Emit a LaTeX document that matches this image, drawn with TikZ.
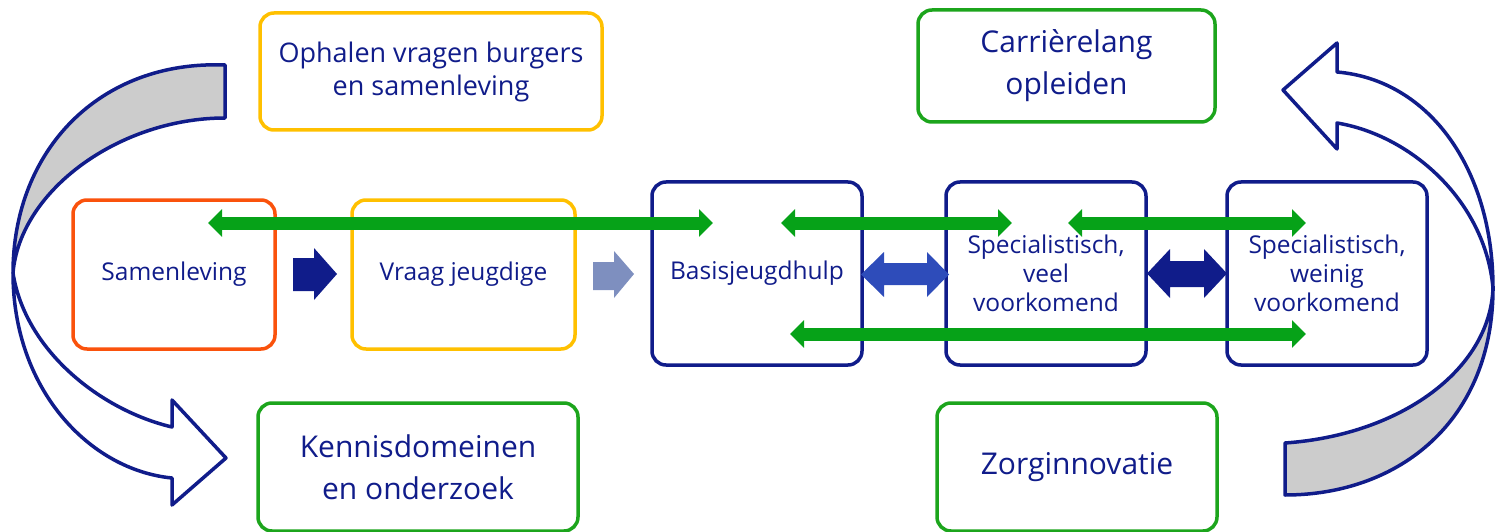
\documentclass[tikz,border=0pt]{standalone}
\usepackage{fontspec}
\setmainfont{Open Sans}
\usetikzlibrary{arrows.meta}
\definecolor{navy}{RGB}{16,28,138}
\definecolor{redor}{RGB}{250,82,12}
\definecolor{yel}{RGB}{255,192,0}
\definecolor{gbox}{RGB}{28,165,28}
\definecolor{garr}{RGB}{6,162,24}
\definecolor{midblue}{RGB}{46,76,186}
\definecolor{lightblue}{RGB}{126,143,191}
\definecolor{band}{RGB}{204,204,204}
\begin{document}
\begin{tikzpicture}[x=1pt,y=-1pt,
 box/.style={draw, rounded corners=14pt, line width=3.5pt, inner sep=0pt, align=center, text=navy},
 small/.style={font=\fontsize{24.5}{29}\selectfont},
 mid/.style={font=\fontsize{27}{33}\selectfont},
 big/.style={font=\fontsize{30}{42}\selectfont},
 garrow/.style={draw=garr, line width=13pt, {Triangle[width=27pt,length=14pt]}-{Triangle[width=27pt,length=14pt]}},
 curved/.style={draw=navy, line width=3.5pt, line join=round}
]
\useasboundingbox (0,0) rectangle (1500,532);

% curved arrows
\filldraw[curved, fill=band] (225,65) .. controls (100,60) and (13,150) .. (13,273) .. controls (20,190) and (120,118) .. (225,118) -- cycle;
\filldraw[curved, fill=white] (13,273) .. controls (25,350) and (100,410) .. (172,427) -- (172,400) -- (226,458) -- (172,505) -- (172,478) .. controls (90,470) and (13,390) .. (13,273) -- cycle;
\filldraw[curved, fill=white] (1493,288) .. controls (1493,170) and (1430,80) .. (1337,72) -- (1337,43) -- (1283,90) -- (1337,149) -- (1337,123) .. controls (1410,135) and (1485,200) .. (1493,288) -- cycle;
\filldraw[curved, fill=band] (1493,288) .. controls (1490,370) and (1400,435) .. (1285,443) -- (1285,495) .. controls (1400,495) and (1493,420) .. (1493,288) -- cycle;

% boxes
\node[box, mid, draw=yel, minimum width=342pt, minimum height=117pt] (oph) at (431,71.5) {Ophalen vragen burgers\\en samenleving};
\node[box, big, draw=gbox, minimum width=297pt, minimum height=112pt] (car) at (1066.5,66) {Carrièrelang\\opleiden};
\node[box, small, draw=redor, minimum width=202pt, minimum height=149pt] (sam) at (174,274.5) {Samenleving};
\node[box, small, draw=yel, minimum width=223pt, minimum height=149pt] (vra) at (463.5,274.5) {Vraag jeugdige};
\node[box, small, draw=navy, minimum width=210pt, minimum height=183pt] (bas) at (757,273.5) {Basisjeugdhulp};
\node[box, small, draw=navy, minimum width=200pt, minimum height=183pt] (spv) at (1046,273.5) {Specialistisch,\\veel\\voorkomend};
\node[box, small, draw=navy, minimum width=200pt, minimum height=183pt] (spw) at (1327,273.5) {Specialistisch,\\weinig\\voorkomend};
\node[box, big, draw=gbox, minimum width=320pt, minimum height=128pt] (ken) at (418,467) {Kennisdomeinen\\en onderzoek};
\node[box, big, draw=gbox, minimum width=280pt, minimum height=128pt] (zor) at (1077,467) {Zorginnovatie};

% block arrows
\fill[navy] (293,258) -- (314,258) -- (314,248) -- (337,274) -- (314,300) -- (314,291) -- (293,291) -- cycle;
\fill[lightblue] (593,262) -- (614,262) -- (614,251) -- (634,274) -- (614,298) -- (614,290) -- (593,290) -- cycle;
\fill[midblue] (861,274.5) -- (884,252) -- (884,263) -- (927,263) -- (927,252) -- (949,274.5) -- (927,297) -- (927,285) -- (884,285) -- (884,297) -- cycle;
\fill[navy] (1147,273.5) -- (1170,249) -- (1170,261) -- (1204,261) -- (1204,249) -- (1227,273.5) -- (1204,298) -- (1204,287) -- (1170,287) -- (1170,298) -- cycle;

% green arrows
\coordinate (g1a) at (208,223);
\coordinate (g1b) at (713,223);
\coordinate (g2a) at (781,223);
\coordinate (g2b) at (1012,223);
\coordinate (g3a) at (1068,223);
\coordinate (g3b) at (1306,223);
\coordinate (g4a) at (790,334);
\coordinate (g4b) at (1306,334);
\draw[garrow] (g1a) -- (g1b);
\draw[garrow] (g2a) -- (g2b);
\draw[garrow] (g3a) -- (g3b);
\draw[garrow] (g4a) -- (g4b);
\end{tikzpicture}
\end{document}
